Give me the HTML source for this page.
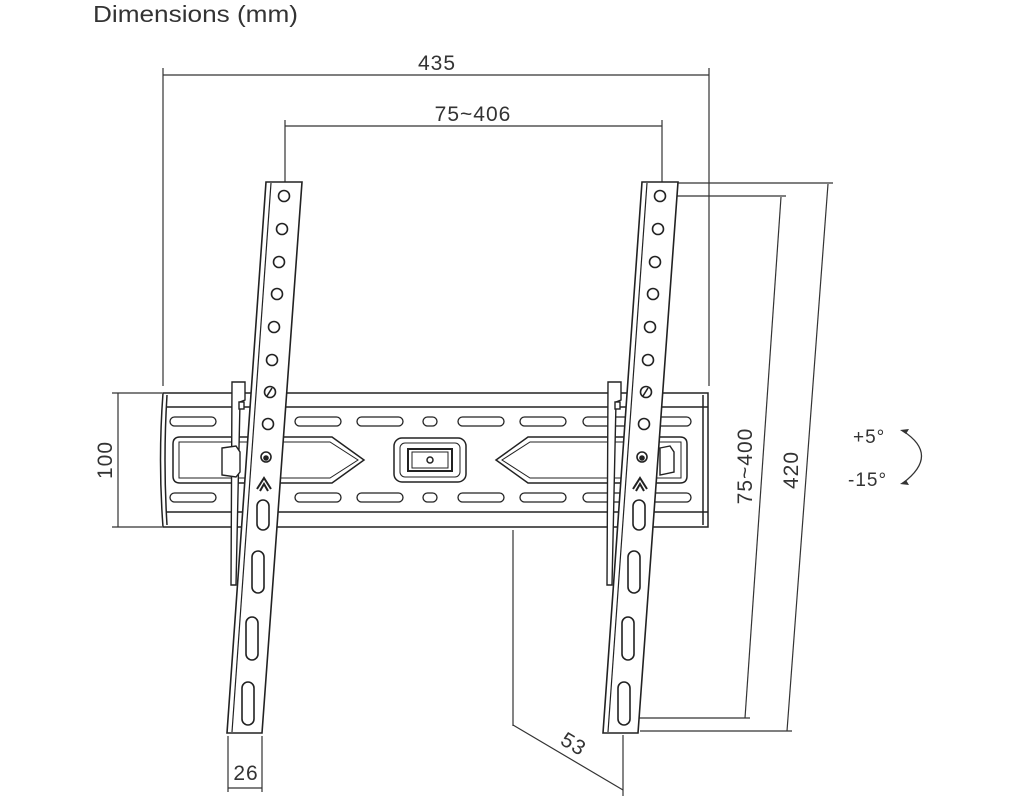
<!DOCTYPE html>
<html><head><meta charset="utf-8"><style>
html,body{margin:0;padding:0;background:#fff;}
svg{display:block;}
text{font-family:"Liberation Sans",sans-serif;fill:#333;letter-spacing:1px;}
</style></head><body>
<svg width="1024" height="800" viewBox="0 0 1024 800" xmlns="http://www.w3.org/2000/svg">
<text x="93" y="22" font-size="23" textLength="205" lengthAdjust="spacingAndGlyphs" style="letter-spacing:0">Dimensions (mm)</text>

<g stroke="#333" stroke-width="1.2" fill="none">
<line x1="163" y1="75" x2="709" y2="75"/>
<line x1="163" y1="68" x2="163" y2="386"/>
<line x1="709" y1="68" x2="709" y2="386"/>
<line x1="285" y1="126" x2="662" y2="126"/>
<line x1="285" y1="120" x2="285" y2="190"/>
<line x1="662" y1="120" x2="662" y2="190"/>
<line x1="118" y1="393" x2="118" y2="527"/>
<line x1="112" y1="393" x2="162" y2="393"/>
<line x1="112" y1="527" x2="162" y2="527"/>
<line x1="228" y1="736" x2="228" y2="792"/>
<line x1="262" y1="736" x2="262" y2="792"/>
<line x1="228" y1="788" x2="262" y2="788"/>
<line x1="513" y1="530" x2="513" y2="726"/>
<line x1="513" y1="725" x2="623" y2="790"/>
<line x1="623" y1="735" x2="623" y2="796"/>
<line x1="668" y1="196" x2="786" y2="196"/>
<line x1="781" y1="197" x2="745" y2="718"/>
<line x1="638" y1="718" x2="750" y2="718"/>
<line x1="677" y1="183" x2="833" y2="183"/>
<line x1="828" y1="184" x2="787" y2="731"/>
<line x1="640" y1="731" x2="792" y2="731"/>
</g>

<text x="437" y="70" font-size="21" text-anchor="middle">435</text>
<text x="473" y="121" font-size="21" text-anchor="middle">75~406</text>
<text transform="translate(112,460) rotate(-90)" font-size="21" text-anchor="middle">100</text>
<text x="246" y="780" font-size="21" text-anchor="middle">26</text>
<text transform="translate(570,750) rotate(31)" font-size="21" text-anchor="middle">53</text>
<text transform="translate(752,466) rotate(-90)" font-size="21" text-anchor="middle">75~400</text>
<text transform="translate(798,470) rotate(-90)" font-size="21" text-anchor="middle">420</text>
<text x="853" y="443" font-size="19">+5°</text>
<text x="848" y="486" font-size="19">-15°</text>
<path d="M903 431 Q940 455 903 483" stroke="#333" stroke-width="1.3" fill="none"/>
<path d="M900 430 l9 -1 l-3 5 z M900 484 l9 1 l-3 -5 z" fill="#333"/>

<g stroke="#222" stroke-width="1.5" fill="#fff">
<path d="M163 393 L708 393 L708 527 L163 527 Q158 460 163 393 Z"/>
<line x1="167" y1="407" x2="708" y2="407"/>
<line x1="167" y1="512" x2="708" y2="512"/>
<path d="M167 395 Q163 460 167 525" fill="none"/>
<line x1="703" y1="395" x2="703" y2="525"/>
<g stroke-width="1.3">
<rect x="170" y="417" width="46" height="9" rx="4.5"/>
<rect x="295" y="417" width="46" height="9" rx="4.5"/>
<rect x="357" y="417" width="46" height="9" rx="4.5"/>
<rect x="423" y="417" width="14" height="9" rx="4.5"/>
<rect x="458" y="417" width="46" height="9" rx="4.5"/>
<rect x="520" y="417" width="46" height="9" rx="4.5"/>
<rect x="583" y="417" width="46" height="9" rx="4.5"/>
<rect x="645" y="417" width="46" height="9" rx="4.5"/>
<rect x="170" y="493" width="46" height="9" rx="4.5"/>
<rect x="295" y="493" width="46" height="9" rx="4.5"/>
<rect x="357" y="493" width="46" height="9" rx="4.5"/>
<rect x="423" y="493" width="14" height="9" rx="4.5"/>
<rect x="458" y="493" width="46" height="9" rx="4.5"/>
<rect x="520" y="493" width="46" height="9" rx="4.5"/>
<rect x="583" y="493" width="46" height="9" rx="4.5"/>
<rect x="645" y="493" width="46" height="9" rx="4.5"/>
</g>
<path d="M180 437 L332 437 L364 460 L332 483 L180 483 Q173 483 173 476 L173 444 Q173 437 180 437 Z"/>
<path d="M179 442 L330 442 L358 460 L330 478 L179 478 Z" fill="none" stroke-width="1"/>
<path d="M680 437 L528 437 L496 460 L528 483 L680 483 Q687 483 687 476 L687 444 Q687 437 680 437 Z"/>
<path d="M681 442 L530 442 L502 460 L530 478 L681 478 Z" fill="none" stroke-width="1"/>
<rect x="394" y="438" width="72" height="44" rx="8"/>
<rect x="400" y="443" width="60" height="34" rx="5" fill="none" stroke-width="1"/>
<rect x="408" y="449" width="44" height="22" stroke-width="2"/>
<rect x="412" y="452" width="36" height="16" stroke-width="1"/>
<circle cx="430" cy="460" r="3"/>
</g>

<g stroke="#222" stroke-width="1.4" fill="#fff">
<path d="M232 382 L245 382 L245 400 L240 402 L236 585 L231 585 L232 382 Z"/>
<rect x="239" y="402" width="5" height="7"/>
<path d="M222 448 L236 446 L240 452 L240 472 L236 477 L222 475 Z"/>
<path d="M608 382 L621 382 L621 400 L616 402 L612 585 L607 585 L608 382 Z"/>
<rect x="615" y="402" width="5" height="7"/>
<path d="M660 448 L670 446 L674 452 L674 472 L660 475 Z"/>
</g>

<g id="arm" stroke="#222" stroke-width="1.6" fill="#fff">
<path d="M266 182 L302 182 L262 733 L227 733 Z"/>
<line x1="271" y1="183" x2="232" y2="732" stroke-width="1.2"/>
<g stroke-width="1.6">
<circle cx="284" cy="196" r="5.5"/>
<circle cx="282" cy="229" r="5.5"/>
<circle cx="279" cy="262" r="5.5"/>
<circle cx="277" cy="294" r="5.5"/>
<circle cx="274" cy="327" r="5.5"/>
<circle cx="272" cy="360" r="5.5"/>
<circle cx="270" cy="392" r="5.5"/>
<line x1="267" y1="396" x2="272" y2="388"/>
<circle cx="268" cy="424" r="5.5"/>
<circle cx="266" cy="457" r="5"/>
<circle cx="266" cy="458" r="2" fill="#222"/>
<path d="M257 489 L264 478 L271 489 M260 491 L264 484 L268 491" stroke-width="2" fill="none"/>
<rect x="257" y="500" width="12" height="30" rx="6"/>
<rect x="252" y="551" width="12" height="42" rx="6"/>
<rect x="246" y="617" width="12" height="43" rx="6"/>
<rect x="242" y="682" width="12" height="43" rx="6"/>
</g>
</g>
<use href="#arm" transform="translate(376,0)"/>
</svg>
</body></html>
